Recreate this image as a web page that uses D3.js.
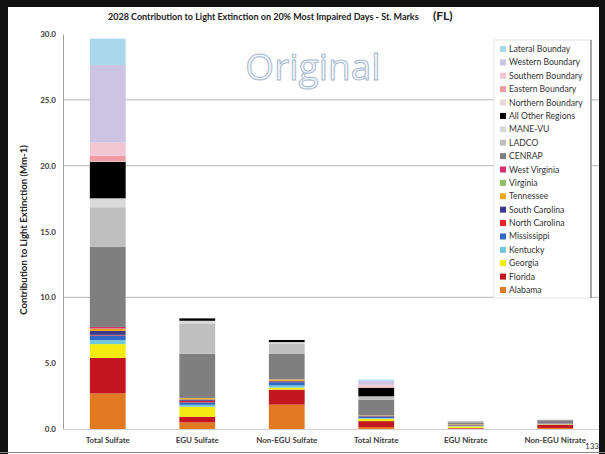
<!DOCTYPE html>
<html lang="en">
<head>
<meta charset="UTF-8"/>
<title>2028 Contribution to Light Extinction - St. Marks</title>
<script src="https://d3js.org/d3.v7.min.js"></script>
<style>
	body { margin: 0; background: #fff; }
	text { font-family: Lato, "Open Sans", sans-serif; }
	.tick-label { font-size: 8px; font-weight: bold; fill: #404040; }
	.legend text { font-size: 8.6px; fill: #333; }
</style>
</head>
<body>
<div id="chart"></div>
<script>
// categories along the x axis
var categories = ["Total Sulfate", "EGU Sulfate", "Non-EGU Sulfate", "Total Nitrate", "EGU Nitrate", "Non-EGU Nitrate"];

// source regions, bottom of the stack first
var sources = ["Alabama", "Florida", "Georgia", "Kentucky", "Mississippi", "North Carolina",
	"South Carolina", "Tennessee", "Virginia", "West Virginia", "CENRAP", "LADCO", "MANE-VU",
	"All Other Regions", "Northern Boundary", "Eastern Boundary", "Southern Boundary",
	"Western Boundary", "Lateral Bounday"];

var sourceColors = ["#e37a22", "#c4161e", "#f3ea12", "#70c9d6", "#2f68c6", "#e2242c",
	"#3d3a8e", "#f0a61a", "#8cc063", "#d6306e", "#7f7f7f", "#bfbfbf", "#dadada",
	"#000000", "#ead6d8", "#f19aa3", "#f3c6d3", "#cdc4e3", "#a9d8ec"];

// values (Mm-1) per source, one per category
var alabama       = [2.70, 0.50, 1.85, 0.15, 0.04, 0.08];
var florida       = [2.70, 0.43, 1.14, 0.45, 0.04, 0.25];
var georgia       = [1.05, 0.76, 0.15, 0.18, 0.12, 0.03];
var kentucky      = [0.30, 0.15, 0.17, 0.05, 0.03, 0.02];
var mississippi   = [0.35, 0.18, 0.25, 0.10, 0.03, 0.03];
var northCarolina = [0.05, 0.12, 0.05, 0.03, 0.02, 0.01];
var southCarolina = [0.30, 0.10, 0.05, 0.03, 0.05, 0.01];
var tennessee     = [0.15, 0.10, 0.10, 0.03, 0.04, 0.01];
var virginia      = [0.03, 0.01, 0.01, 0.01, 0.01, 0.00];
var westVirginia  = [0.12, 0.01, 0.01, 0.00, 0.00, 0.00];
var cenrap        = [6.07, 3.36, 1.92, 1.20, 0.12, 0.20];
var ladco         = [3.02, 2.30, 0.80, 0.20, 0.02, 0.03];
var maneVu        = [0.68, 0.20, 0.10, 0.05, 0.01, 0.00];
var allOther      = [2.78, 0.18, 0.16, 0.65, 0.02, 0.02];
var northernBnd   = [0.05, 0.00, 0.00, 0.03, 0.00, 0.00];
var easternBnd    = [0.40, 0.00, 0.00, 0.05, 0.00, 0.00];
var southernBnd   = [1.00, 0.00, 0.00, 0.15, 0.00, 0.00];
var westernBnd    = [5.90, 0.00, 0.00, 0.30, 0.00, 0.00];
var lateralBnd    = [2.00, 0.00, 0.00, 0.10, 0.00, 0.00];

var sourceValues = [alabama, florida, georgia, kentucky, mississippi, northCarolina,
	southCarolina, tennessee, virginia, westVirginia, cenrap, ladco, maneVu, allOther,
	northernBnd, easternBnd, southernBnd, westernBnd, lateralBnd];

var yTicks = [0, 5, 10, 15, 20, 25, 30];
var gridValues = [10, 20, 25];

var w = 605, h = 454;

// build one row per category for d3.stack
var dataset = categories.map(function(c, i) {
	var row = { category: c };
	sources.forEach(function(s, j) { row[s] = sourceValues[j][i]; });
	return row;
});

var series = d3.stack().keys(sources)(dataset);

var color = d3.scaleOrdinal().domain(sources).range(sourceColors);

var xScale = d3.scaleBand()
	.domain(categories)
	.range([63, 600])
	.paddingInner(0.6)
	.paddingOuter(0.3);

var yScale = d3.scaleLinear()
	.domain([0, 30])
	.range([429, 34]);

var svg = d3.select("#chart")
	.append("svg")
	.attr("width", w)
	.attr("height", h);

svg.append("rect").attr("width", w).attr("height", h).attr("fill", "#fff");

// gridlines
svg.append("g")
	.selectAll("line")
	.data(gridValues)
	.enter()
	.append("line")
	.attr("x1", 63).attr("x2", 600)
	.attr("y1", function(d) { return yScale(d); })
	.attr("y2", function(d) { return yScale(d); })
	.attr("stroke", "#b8b8b8")
	.attr("stroke-width", 1);

// watermark
svg.append("text")
	.attr("x", 313)
	.attr("y", 80)
	.attr("text-anchor", "middle")
	.style("font-family", "'Open Sans', sans-serif")
	.style("font-size", "37px")
	.attr("fill", "#f3f6fa")
	.attr("stroke", "#a7b8cf")
	.attr("stroke-width", 1)
	.text("Original");

// bars
var groups = svg.selectAll("g.series")
	.data(series)
	.enter()
	.append("g")
	.attr("class", "series")
	.attr("fill", function(d) { return color(d.key); });

groups.selectAll("rect")
	.data(function(d) { return d; })
	.enter()
	.append("rect")
	.attr("x", function(d) { return xScale(d.data.category); })
	.attr("y", function(d) { return yScale(d[1]); })
	.attr("height", function(d) { return yScale(d[0]) - yScale(d[1]); })
	.attr("width", xScale.bandwidth());

// axes
var yAxis = d3.axisLeft(yScale)
	.tickValues(yTicks)
	.tickFormat(d3.format(".1f"))
	.tickSize(0)
	.tickPadding(7);

var yg = svg.append("g")
	.attr("transform", "translate(63,0)")
	.call(yAxis);
yg.select(".domain").attr("stroke", "#a0a0a0");
yg.selectAll("text").attr("class", "tick-label").attr("fill", null);

var xAxis = d3.axisBottom(xScale).tickSize(0).tickPadding(8);
var xg = svg.append("g")
	.attr("transform", "translate(0,429)")
	.call(xAxis);
xg.select(".domain").attr("stroke", "#d0d0d0");
xg.selectAll("text").attr("class", "tick-label").attr("fill", null);

// y title
svg.append("text")
	.attr("transform", "translate(27,230) rotate(-90)")
	.attr("text-anchor", "middle")
	.style("font-size", "9.6px")
	.style("font-weight", "bold")
	.attr("fill", "#222")
	.text("Contribution to Light Extinction (Mm-1)");

// title
svg.append("text")
	.attr("x", 108)
	.attr("y", 20)
	.style("font-size", "9px")
	.style("font-weight", "bold")
	.attr("fill", "#222")
	.text("2028 Contribution to Light Extinction on 20% Most Impaired Days - St. Marks");
svg.append("text")
	.attr("x", 433)
	.attr("y", 20)
	.style("font-size", "12px")
	.style("font-weight", "bold")
	.attr("fill", "#222")
	.text("(FL)");

// legend
var legend = svg.append("g").attr("class", "legend");
legend.append("rect")
	.attr("x", 494).attr("y", 40)
	.attr("width", 97).attr("height", 258)
	.attr("fill", "#fff")
	.attr("stroke", "#e4e4e4");
legend.append("line")
	.attr("x1", 591).attr("x2", 591)
	.attr("y1", 40).attr("y2", 298)
	.attr("stroke", "#606060");

var legendKeys = sources.slice().reverse();
var ly = d3.scalePoint().domain(legendKeys).range([49, 290]);

var items = legend.selectAll("g.item")
	.data(legendKeys)
	.enter()
	.append("g")
	.attr("class", "item")
	.attr("transform", function(d) { return "translate(500," + ly(d) + ")"; });
items.append("rect")
	.attr("x", 0).attr("y", -3)
	.attr("width", 6).attr("height", 6)
	.attr("fill", function(d) { return color(d); });
items.append("text")
	.attr("x", 9).attr("y", 3)
	.text(function(d) { return d; });

// frame
svg.append("rect").attr("x", 0).attr("y", 0).attr("width", 8).attr("height", h).attr("fill", "#111");
svg.append("rect").attr("x", 0).attr("y", 0).attr("width", w).attr("height", 7).attr("fill", "#111");
svg.append("rect").attr("x", 599).attr("y", 0).attr("width", 6).attr("height", h).attr("fill", "#111");
svg.append("line").attr("x1", 0).attr("x2", w).attr("y1", 452.5).attr("y2", 452.5).attr("stroke", "#888");

svg.append("text")
	.attr("x", 585).attr("y", 449)
	.style("font-size", "8px")
	.attr("fill", "#333")
	.text("133");
</script>
</body>
</html>
